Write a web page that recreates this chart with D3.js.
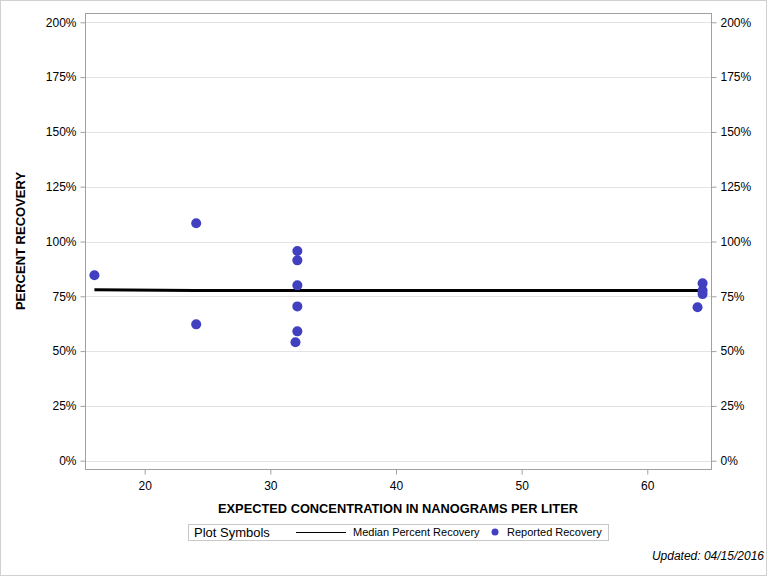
<!DOCTYPE html>
<html><head><meta charset="utf-8">
<script src="https://cdn.jsdelivr.net/npm/d3@7"></script>
<style>body{margin:0;background:#fff}svg{display:block;font-family:"Liberation Sans",Arial,sans-serif}</style>
</head><body><svg id="c" width="768" height="576"></svg>
<script>
const xTicks=[20,30,40,50,60];
const yTicks=[0,25,50,75,100,125,150,175,200];
const pointX=[16,24.1,24.1,32.15,32.15,32.15,32.15,32.15,32,64.4,64.4,64.4,64];
const pointY=[84.6,108.3,62.2,95.7,91.4,80.0,70.4,59.0,54.0,80.9,77.6,76.0,70.0];
const medianX=[16,24,32,64,64.4];
const medianY=[78.0,77.7,77.7,77.7,77.7];

const svg=d3.select("#c");
const L=85,R=711,T=13,B=469;
const x=d3.scaleLinear().domain([15.25,65.07]).range([L,R]);
const y=d3.scaleLinear().domain([0,200]).range([460.7,22.3]);

svg.append("rect").attr("x",0.5).attr("y",0.5).attr("width",766).attr("height",575).attr("fill","none").attr("stroke","#d0d0d0");

svg.append("g").selectAll("line").data(yTicks).join("line")
 .attr("x1",L).attr("x2",R).attr("y1",d=>Math.round(y(d))+0.5).attr("y2",d=>Math.round(y(d))+0.5)
 .attr("stroke","#e3e3e3");

svg.append("rect").attr("x",L+0.5).attr("y",T+0.5).attr("width",R-L).attr("height",B-T).attr("fill","none").attr("stroke","#a0a0a0");

const fmt=d=>d+"%";
const ga=svg.append("g").attr("transform",`translate(${L+0.5},0)`).call(d3.axisLeft(y).tickValues(yTicks).tickFormat(fmt).tickSize(5).tickPadding(4));
const gb=svg.append("g").attr("transform",`translate(${R+0.5},0)`).call(d3.axisRight(y).tickValues(yTicks).tickFormat(fmt).tickSize(5).tickPadding(4));
const gx=svg.append("g").attr("transform",`translate(0,${B+0.5})`).call(d3.axisBottom(x).tickValues(xTicks).tickSize(5).tickPadding(7));
[ga,gb,gx].forEach(g=>{g.select(".domain").remove();g.selectAll("line").attr("stroke","#a0a0a0");g.selectAll("text").attr("fill","#000").style("font-size","12px").style("font-family","'Liberation Sans',Arial,sans-serif");});

svg.append("path").datum(medianX.map((d,i)=>[d,medianY[i]]))
 .attr("d",d3.line().x(d=>x(d[0])).y(d=>y(d[1]))).attr("fill","none").attr("stroke","#000").attr("stroke-width",3);

svg.append("g").selectAll("circle").data(pointX.map((d,i)=>[d,pointY[i]])).join("circle")
 .attr("cx",d=>x(d[0])).attr("cy",d=>y(d[1])).attr("r",5).attr("fill","#4040c0");

svg.append("text").attr("transform","translate(25,241) rotate(-90)").attr("text-anchor","middle")
 .style("font-weight","bold").style("font-size","13px").text("PERCENT RECOVERY");
svg.append("text").attr("x",398).attr("y",513).attr("text-anchor","middle")
 .style("font-weight","bold").style("font-size","13px").attr("textLength",360).attr("lengthAdjust","spacingAndGlyphs").text("EXPECTED CONCENTRATION IN NANOGRAMS PER LITER");

const lg=svg.append("g");
lg.append("rect").attr("x",188.5).attr("y",524.5).attr("width",420).attr("height",16).attr("fill","#fff").attr("stroke","#c8c8c8");
lg.append("text").attr("x",194).attr("y",537).style("font-size","13px").text("Plot Symbols");
lg.append("line").attr("x1",296).attr("x2",346).attr("y1",532.5).attr("y2",532.5).attr("stroke","#000").attr("stroke-width",1);
lg.append("text").attr("x",353).attr("y",536).style("font-size","11px").text("Median Percent Recovery");
lg.append("circle").attr("cx",495).attr("cy",532).attr("r",3.5).attr("fill","#4040c0");
lg.append("text").attr("x",507).attr("y",536).style("font-size","11px").text("Reported Recovery");

svg.append("text").attr("x",764).attr("y",560).attr("text-anchor","end").style("font-style","italic").style("font-size","12px").text("Updated: 04/15/2016");
</script></body></html>
